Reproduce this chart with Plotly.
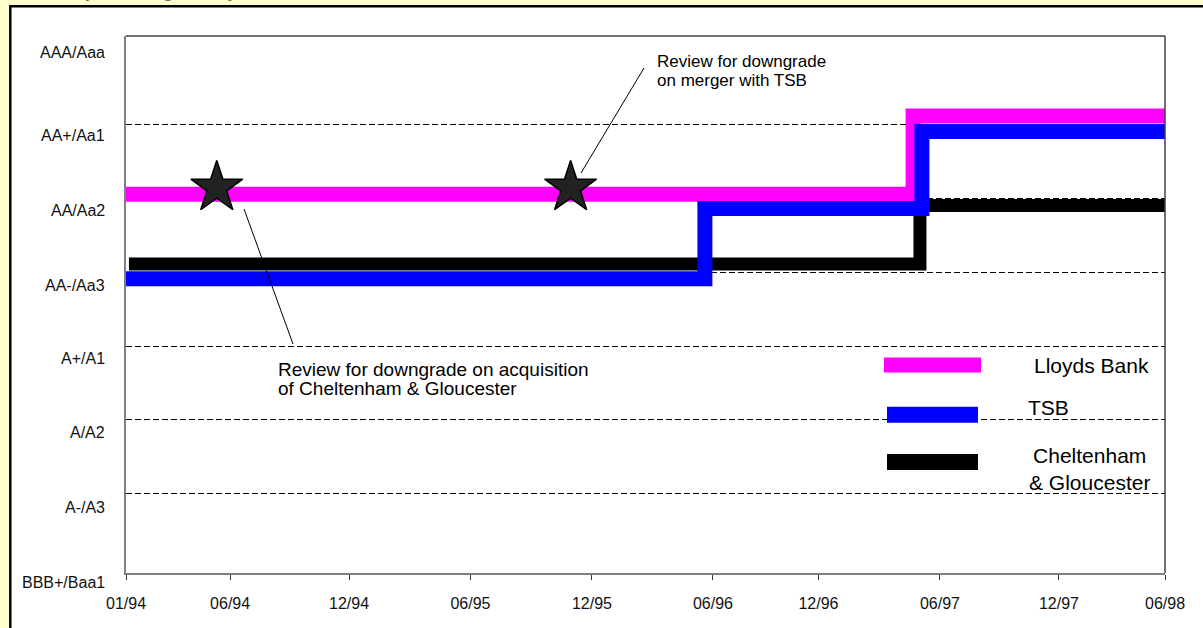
import plotly.graph_objects as go

# ---------------- data ----------------
# rating scale: 0 = BBB+/Baa1 ... 7 = AAA/Aaa
rating_labels = ["BBB+/Baa1", "A-/A3", "A/A2", "A+/A1", "AA-/Aa3", "AA/Aa2", "AA+/Aa1", "AAA/Aaa"]
rating_levels = [0, 1, 2, 3, 4, 5, 6, 7]
grid_levels = [1, 2, 3, 4, 5, 6]

# time axis in months since 01/94 (as drawn)
tick_labels = ["01/94", "06/94", "12/94", "06/95", "12/95", "06/96", "12/96", "06/97", "12/97", "06/98"]
tick_months = [0, 5.31, 11.38, 17.57, 23.77, 29.94, 35.32, 41.52, 47.59, 53]

lloyds_x = [0, 40.15, 53]
lloyds_y = [5.05, 6.11, 6.11]
tsb_x = [0, 29.53, 40.6, 53]
tsb_y = [3.91, 4.86, 5.90, 5.90]
cg_x = [0.15, 40.5, 53]
cg_y = [4.11, 4.90, 4.90]

event_x = [4.63, 22.68]
event_y = [5.14, 5.14]

series_names = ["Lloyds Bank", "TSB", "Cheltenham<br>& Gloucester"]
series_colors = ["#FF00FF", "#0000FF", "#000000"]

note_merger = ["Review for downgrade", "on merger with TSB"]
note_acq = ["Review for downgrade on acquisition", "of Cheltenham & Gloucester"]

# ---------------- layout helpers (pixel -> paper) ----------------
W, H = 1203, 628
L, R, T, B = 126, 38, 36, 55
PW, PH = W - L - R, H - T - B
def px(x):
    return (x - L) / PW
def py(y):
    return (H - B - y) / PH

FONT = "Liberation Sans, Arial, sans-serif"

fig = go.Figure()

fig.add_trace(go.Scatter(x=cg_x, y=cg_y, mode="lines", line=dict(color=series_colors[2], width=13, shape="hv"),
                         name="Cheltenham & Gloucester", showlegend=False, hoverinfo="skip"))
fig.add_trace(go.Scatter(x=lloyds_x, y=lloyds_y, mode="lines", line=dict(color=series_colors[0], width=15, shape="hv"),
                         name="Lloyds Bank", showlegend=False, hoverinfo="skip"))
fig.add_trace(go.Scatter(x=tsb_x, y=tsb_y, mode="lines", line=dict(color=series_colors[1], width=15, shape="hv"),
                         name="TSB", showlegend=False, hoverinfo="skip"))
fig.add_trace(go.Scatter(x=event_x, y=event_y, mode="markers",
                         marker=dict(symbol="star", size=39, color="#222222", line=dict(color="black", width=1.5)),
                         showlegend=False, hoverinfo="skip"))

shapes = []
# white panel with black border on yellow page
shapes.append(dict(type="rect", xref="paper", yref="paper", x0=px(10.3), y0=py(640), x1=px(1215), y1=py(6.2),
                   line=dict(color="black", width=2.5), fillcolor="white", layer="below"))
# top and right frame
shapes.append(dict(type="line", xref="paper", yref="paper", x0=0, x1=1, y0=1, y1=1,
                   line=dict(color="#404040", width=1.5)))
shapes.append(dict(type="line", xref="paper", yref="paper", x0=1, x1=1, y0=0, y1=1,
                   line=dict(color="#404040", width=1.5)))
# callout lines
shapes.append(dict(type="line", xref="paper", yref="paper", x0=px(244), y0=py(209), x1=px(293), y1=py(344),
                   line=dict(color="black", width=1)))
shapes.append(dict(type="line", xref="paper", yref="paper", x0=px(581), y0=py(173), x1=px(644), y1=py(68),
                   line=dict(color="black", width=1)))
# legend swatches
legend_rows = [(365, 884, 981, 15), (414.7, 887, 978, 16), (462, 887, 978, 16)]
for (yy, xa, xb, th), col in zip(legend_rows, series_colors):
    shapes.append(dict(type="rect", xref="paper", yref="paper", x0=px(xa), x1=px(xb), y0=py(yy + th / 2), y1=py(yy - th / 2),
                       fillcolor=col, line=dict(width=0)))

annotations = []
# rating labels (drawn slightly below their level, as in the original)
label_shift = [-15, -14, -13, -12, -13, -12, -11, -2]
for lvl, lab, sh in zip(rating_levels, rating_labels, label_shift):
    annotations.append(dict(xref="paper", yref="y", x=px(107), y=lvl, yshift=sh, xanchor="right", yanchor="middle",
                            text=lab, showarrow=False, font=dict(family=FONT, size=16, color="#111111")))
for txt, yy in zip(note_merger, [61, 80]):
    annotations.append(dict(xref="paper", yref="paper", x=px(655), y=py(yy), xanchor="left", yanchor="middle",
                            text=txt, showarrow=False, font=dict(family=FONT, size=17, color="black")))
for txt, yy in zip(note_acq, [369, 389]):
    annotations.append(dict(xref="paper", yref="paper", x=px(276), y=py(yy), xanchor="left", yanchor="middle",
                            text=txt.replace("&", "&amp;"), showarrow=False, font=dict(family=FONT, size=19, color="black")))
legend_text_pos = [(1032, 365, "left"), (1026, 407, "left"), (1089, 469, "center")]
for (xx, yy, anc), name in zip(legend_text_pos, series_names):
    annotations.append(dict(xref="paper", yref="paper", x=px(xx), y=py(yy), xanchor=anc, yanchor="middle", align="center",
                            text=name.replace("&", "&amp;"), showarrow=False,
                            font=dict(family=FONT, size=21, color="black")))
# clipped page title at top (only its lowest part is visible)
annotations.append(dict(xref="paper", yref="paper", x=px(8), y=py(3), xanchor="left", yanchor="bottom",
                        text="Summary of rating history", showarrow=False,
                        font=dict(family=FONT, size=20, color="#666666")))

fig.update_layout(
    width=W, height=H,
    margin=dict(l=L, r=R, t=T, b=B, pad=0),
    paper_bgcolor="#FFFFCC", plot_bgcolor="white",
    font=dict(family=FONT, size=16, color="#111111"),
    shapes=shapes, annotations=annotations,
    xaxis=dict(range=[0, 53], tickmode="array", tickvals=tick_months, ticktext=tick_labels,
               showgrid=False, zeroline=False, showline=True, linecolor="#7f7f7f", linewidth=2,
               ticks="outside", ticklen=5, tickwidth=1, tickcolor="#333333", ticklabelstandoff=10,
               tickfont=dict(family=FONT, size=16, color="#111111")),
    xaxis2=dict(range=[0, 53], overlaying="x", anchor="y", side="bottom", tickmode="array", tickvals=tick_months,
                showticklabels=False, showgrid=False, zeroline=False, showline=False,
                ticks="inside", ticklen=5, tickwidth=1, tickcolor="#333333"),
    yaxis=dict(range=[-0.068, 7.19], tickmode="array", tickvals=rating_levels,
               showticklabels=False,
               showgrid=False, zeroline=False, showline=True, linecolor="#7f7f7f", linewidth=2, ticks="",
               minor=dict(tickmode="array", tickvals=grid_levels, showgrid=True, gridcolor="black",
                          griddash="6px,3px", gridwidth=1.3, ticks="")),
)

fig.write_html("out.html")
